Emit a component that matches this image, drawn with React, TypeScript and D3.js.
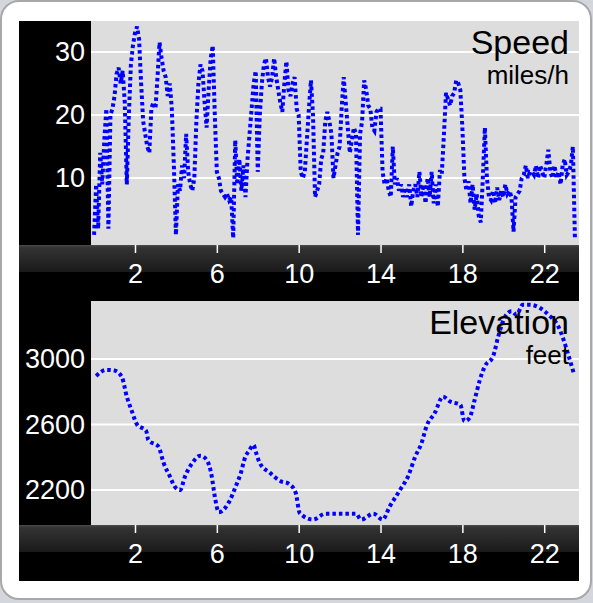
import { useEffect, useRef } from "react";
import * as d3 from "d3";

const WIDTH = 593;
const HEIGHT = 603;

const HOUR_TICKS = [2, 6, 10, 14, 18, 22];
const SPEED_TICKS = [10, 20, 30];
const ELEV_TICKS = [2200, 2600, 3000];

const SPEED_STEP = 0.1;
const speedMph = [
  1, 9, 2, 14, 9, 16, 21, 2, 20, 21,
  23, 26.5, 27.5, 25, 27, 22, 9, 20, 28, 31,
  33, 34, 32, 25, 19, 17, 15, 14, 21, 22,
  21, 26, 31.5, 29, 27, 26, 23, 25, 21, 12,
  1, 9, 8, 12, 10, 17, 11, 9, 8, 10,
  19, 25, 28, 27, 22, 18, 24, 29, 31, 20,
  11, 10, 8, 7.5, 7, 7.5, 6.5, 7, 0.5, 16,
  9, 13, 8, 12, 7, 13, 17, 21, 25, 27,
  11, 20, 25, 28, 29, 26, 24.5, 26, 29, 26,
  24, 22, 20.5, 25, 28.5, 24, 23, 25, 26, 21,
  20, 11, 10, 11, 16, 21, 25.5, 20, 7, 8,
  9, 13, 14, 19, 20.5, 19, 17, 10, 12, 14,
  15, 21, 26, 22, 18, 14, 16, 18, 17, 1,
  17, 19, 25.5, 24, 21.5, 21, 18, 17.5, 20.5, 21,
  21, 11, 9, 10, 8, 7, 15, 9, 10, 8,
  9, 7, 8.5, 7, 9, 5.5, 8, 9, 7, 11,
  7, 9, 6, 10, 7, 11, 6, 9, 5.5, 11,
  11, 17, 23.5, 22.5, 21.5, 23, 23.5, 25.5, 25, 24,
  18, 10, 8, 9.5, 6, 9, 5, 7.5, 4, 3,
  10, 18, 10, 7, 6.5, 8, 6, 8.5, 6.5, 8,
  7, 9, 7.5, 8, 7, 1.5, 7, 7.5, 8, 10,
  10.5, 12, 10, 11, 11, 10.5, 12, 10, 12, 11,
  10, 12, 14.5, 11, 10, 12, 10, 11, 9, 12,
  13, 10.5, 11, 12, 15, 0.5,
];

const elevHours = [
  0.1, 0.6, 1.0, 1.35, 1.6, 1.85, 2.1, 2.55, 2.65, 3.15, 3.4, 3.7, 3.95, 4.2,
  4.45, 4.8, 5.2, 5.5, 5.75, 5.9, 6.1, 6.4, 6.65, 6.9, 7.15, 7.4, 7.55, 7.8,
  7.9, 8.1, 8.6, 9.1, 9.5, 9.85, 10.05, 10.7, 11.3, 12.8, 13.05, 13.65, 14.1,
  14.45, 14.95, 15.35, 15.7, 16.0, 16.25, 16.65, 17.05, 17.4, 17.9, 18.1,
  18.35, 18.6, 18.85, 19.1, 19.5, 19.75, 20.1, 20.4, 20.65, 20.95, 21.3, 21.8,
  22.2, 22.7, 22.95, 23.2, 23.45,
];
const elevFeet = [
  2896, 2933, 2929, 2892, 2770, 2680, 2600, 2560, 2505, 2465, 2365, 2285, 2220,
  2200, 2285, 2365, 2410, 2385, 2285, 2160, 2065, 2090, 2140, 2215, 2295, 2405,
  2435, 2475, 2435, 2365, 2305, 2255, 2240, 2185, 2060, 2020, 2056, 2056, 2020,
  2056, 2020, 2100, 2200, 2285, 2405, 2485, 2590, 2670, 2770, 2740, 2720, 2620,
  2640, 2750, 2870, 2955, 3015, 3135, 3260, 3290, 3270, 3330, 3330, 3310, 3270,
  3195, 3115, 3015, 2910,
];

const FONT = "'Liberation Sans', Arial, Helvetica, sans-serif";
const PLOT_LEFT = 91;
const PLOT_RIGHT = 579;
const BAND_H = 27;

type Pt = [number, number];

export default function App() {
  const svgRef = useRef<SVGSVGElement>(null);

  useEffect(() => {
    const svg = d3.select(svgRef.current);
    svg.selectAll("*").remove();

    svg.append("rect").attr("width", WIDTH).attr("height", HEIGHT).attr("fill", "#d3d7dd");

    // card + black panel
    svg.append("rect")
      .attr("x", 1).attr("y", 1).attr("width", 590).attr("height", 598)
      .attr("rx", 18)
      .attr("fill", "#ffffff")
      .attr("stroke", "#a8a8a8")
      .attr("stroke-width", 2);
    svg.append("rect")
      .attr("x", 19).attr("y", 21).attr("width", 560).attr("height", 560)
      .attr("fill", "#000000");

    const defs = svg.append("defs");
    const grad = defs.append("linearGradient")
      .attr("id", "band").attr("x1", 0).attr("y1", 0).attr("x2", 0).attr("y2", 1);
    grad.append("stop").attr("offset", 0).attr("stop-color", "#4a4a4a");
    grad.append("stop").attr("offset", 0.1).attr("stop-color", "#333333");
    grad.append("stop").attr("offset", 1).attr("stop-color", "#1a1a1a");

    const xScale = d3.scaleLinear().domain([-0.15, 23.7]).range([PLOT_LEFT, PLOT_RIGHT]);

    const speedData: Pt[] = speedMph.map((v, i) => [i * SPEED_STEP, v]);
    const elevData: Pt[] = elevFeet.map((v, i) => [elevHours[i], v]);

    const panels = [
      {
        id: "speed", top: 21, bottom: 245, domain: [-0.6, 34.9], ticks: SPEED_TICKS,
        data: speedData, title: "Speed", unit: "miles/h", curve: d3.curveLinear,
      },
      {
        id: "elev", top: 301, bottom: 525, domain: [1987, 3353], ticks: ELEV_TICKS,
        data: elevData, title: "Elevation", unit: "feet", curve: d3.curveMonotoneX,
      },
    ];

    panels.forEach((p) => {
      const yScale = d3.scaleLinear().domain(p.domain).range([p.bottom, p.top]);

      svg.append("rect")
        .attr("x", PLOT_LEFT).attr("y", p.top)
        .attr("width", PLOT_RIGHT - PLOT_LEFT).attr("height", p.bottom - p.top)
        .attr("fill", "#dddddd");

      p.ticks.forEach((t) => {
        svg.append("line")
          .attr("x1", PLOT_LEFT).attr("x2", PLOT_RIGHT)
          .attr("y1", yScale(t)).attr("y2", yScale(t))
          .attr("stroke", "#ffffff").attr("stroke-width", 2);
      });

      // axis band
      svg.append("rect")
        .attr("x", 19).attr("y", p.bottom)
        .attr("width", 560).attr("height", BAND_H)
        .attr("fill", "url(#band)");

      const xAxis = svg.append("g")
        .attr("transform", `translate(0,${p.bottom})`)
        .call(d3.axisBottom(xScale).tickValues(HOUR_TICKS).tickSize(8).tickFormat(d3.format("d")));
      xAxis.select(".domain").remove();
      xAxis.selectAll("line").attr("stroke", "#ffffff").attr("stroke-width", 1.5);
      xAxis.selectAll("text")
        .attr("y", 38).attr("dy", null)
        .attr("fill", "#ffffff")
        .attr("font-size", "27px")
        .attr("font-family", FONT);

      const yAxis = svg.append("g")
        .attr("transform", `translate(${PLOT_LEFT},0)`)
        .call(d3.axisLeft(yScale).tickValues(p.ticks).tickSize(0).tickPadding(6).tickFormat(d3.format("d")));
      yAxis.select(".domain").remove();
      yAxis.selectAll("text")
        .attr("fill", "#ffffff")
        .attr("font-size", "27px")
        .attr("font-family", FONT);

      const clipId = `clip-${p.id}`;
      defs.append("clipPath").attr("id", clipId)
        .append("rect")
        .attr("x", PLOT_LEFT).attr("y", p.top)
        .attr("width", PLOT_RIGHT - PLOT_LEFT).attr("height", p.bottom - p.top);

      const lineGen = d3.line<Pt>()
        .x((d) => xScale(d[0]))
        .y((d) => yScale(d[1]))
        .curve(p.curve);

      svg.append("path")
        .datum(p.data)
        .attr("clip-path", `url(#${clipId})`)
        .attr("d", lineGen)
        .attr("fill", "none")
        .attr("stroke", "#0000ff")
        .attr("stroke-width", 4)
        .attr("stroke-dasharray", "3.5,3");

      svg.append("text")
        .attr("x", 569).attr("y", p.top + 33)
        .attr("text-anchor", "end")
        .attr("font-size", "34px")
        .attr("font-family", FONT)
        .attr("fill", "#000000")
        .text(p.title);

      svg.append("text")
        .attr("x", 569).attr("y", p.top + 63)
        .attr("text-anchor", "end")
        .attr("font-size", "26px")
        .attr("font-family", FONT)
        .attr("fill", "#000000")
        .text(p.unit);
    });
  }, []);

  return (
    <svg
      ref={svgRef}
      width={WIDTH}
      height={HEIGHT}
      style={{ position: "absolute", left: 0, top: 0 }}
    />
  );
}
